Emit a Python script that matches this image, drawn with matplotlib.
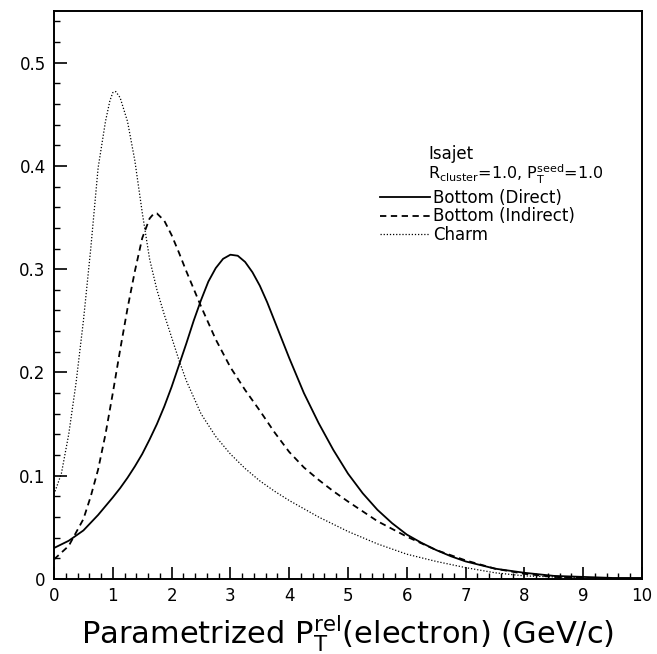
import matplotlib
matplotlib.use('Agg')
import matplotlib.pyplot as plt
from matplotlib.ticker import MultipleLocator, FixedLocator

# Bottom (Direct) - solid
x_direct = [0, 0.25, 0.5, 0.75, 1.0, 1.125, 1.25, 1.375, 1.5, 1.625, 1.75, 1.875, 2.0,
            2.125, 2.25, 2.375, 2.5, 2.625, 2.75, 2.875, 3.0, 3.125, 3.25, 3.375, 3.5,
            3.625, 3.75, 3.875, 4.0, 4.25, 4.5, 4.75, 5.0, 5.25, 5.5, 5.75, 6.0, 6.25,
            6.5, 6.75, 7.0, 7.5, 8.0, 8.5, 9.0, 9.5, 10.0]
y_direct = [0.030, 0.037, 0.047, 0.062, 0.079, 0.088, 0.098, 0.109, 0.121, 0.135, 0.150,
            0.167, 0.186, 0.207, 0.228, 0.250, 0.270, 0.288, 0.301, 0.310, 0.314, 0.313,
            0.307, 0.297, 0.284, 0.268, 0.250, 0.232, 0.214, 0.180, 0.151, 0.125, 0.102,
            0.083, 0.067, 0.054, 0.043, 0.035, 0.028, 0.022, 0.017, 0.010, 0.006, 0.003,
            0.002, 0.001, 0.001]

# Bottom (Indirect) - dashed
x_indirect = [0, 0.25, 0.5, 0.625, 0.75, 0.875, 1.0, 1.125, 1.25, 1.375, 1.5, 1.625, 1.7,
              1.75, 1.875, 2.0, 2.125, 2.25, 2.5, 2.75, 3.0, 3.25, 3.5, 3.75, 4.0, 4.25,
              4.5, 4.75, 5.0, 5.5, 6.0, 6.5, 7.0, 7.5, 8.0, 8.5, 9.0]
y_indirect = [0.019, 0.032, 0.058, 0.080, 0.106, 0.140, 0.180, 0.222, 0.262, 0.298, 0.330,
              0.349, 0.354, 0.354, 0.347, 0.333, 0.316, 0.298, 0.264, 0.232, 0.205, 0.183,
              0.163, 0.142, 0.123, 0.108, 0.096, 0.085, 0.075, 0.056, 0.041, 0.028, 0.018,
              0.010, 0.005, 0.002, 0.001]

# Charm - dotted
x_charm = [0, 0.125, 0.25, 0.375, 0.5, 0.625, 0.75, 0.875, 0.95, 1.0, 1.05, 1.125, 1.25,
           1.375, 1.5, 1.625, 1.75, 1.875, 2.0, 2.125, 2.25, 2.5, 2.75, 3.0, 3.25, 3.5,
           3.75, 4.0, 4.5, 5.0, 5.5, 6.0, 6.5, 7.0, 7.5, 8.0, 8.5, 9.0]
y_charm = [0.082, 0.102, 0.140, 0.190, 0.250, 0.320, 0.398, 0.443, 0.463, 0.471, 0.472,
           0.466, 0.443, 0.405, 0.355, 0.310, 0.280, 0.256, 0.234, 0.212, 0.192, 0.160,
           0.138, 0.121, 0.107, 0.095, 0.085, 0.076, 0.060, 0.046, 0.034, 0.024, 0.017,
           0.011, 0.006, 0.003, 0.002, 0.001]

labels = ['Bottom (Direct)', 'Bottom (Indirect)', 'Charm']
y_ticks = [0, 0.1, 0.2, 0.3, 0.4, 0.5]
y_ticklabels = ['0', '0.1', '0.2', '0.3', '0.4', '0.5']

fig = plt.figure(figsize=(6.57, 6.54), dpi=100)
ax = fig.add_axes([0.0822, 0.1147, 0.8950, 0.8685])

ax.plot(x_direct, y_direct, color='k', lw=1.3, linestyle='-', label=labels[0])
ax.plot(x_indirect, y_indirect, color='k', lw=1.3, linestyle=(0, (3.5, 2.5)), label=labels[1])
ax.plot(x_charm, y_charm, color='k', lw=0.9, linestyle=(0, (1, 1.5)), label=labels[2])

ax.set_xlim(0, 10)
ax.set_ylim(0, 0.55)
ax.xaxis.set_major_locator(MultipleLocator(1))
ax.xaxis.set_minor_locator(MultipleLocator(0.2))
ax.yaxis.set_major_locator(FixedLocator(y_ticks))
ax.set_yticklabels(y_ticklabels)
ax.yaxis.set_minor_locator(MultipleLocator(0.02))
ax.tick_params(which='major', direction='in', length=9, width=1.2, labelsize=12, pad=6)
ax.tick_params(which='minor', direction='in', length=4.5, width=1.0)
ax.tick_params(top=False, right=False, which='both')
for s in ax.spines.values():
    s.set_linewidth(1.4)

ax.set_xlabel(r'Parametrized P$_\mathregular{T}^\mathregular{rel}$(electron) (GeV/c)',
              fontsize=22, labelpad=6)

ax.text(6.36, 0.412, 'Isajet', fontsize=12, va='center')
ax.text(6.36, 0.392, r'R$_\mathregular{cluster}$=1.0, P$_\mathregular{T}^\mathregular{seed}$=1.0',
        fontsize=11.5, va='center')
ax.legend(loc='upper left', bbox_to_anchor=(0.54, 0.702), frameon=False, fontsize=12,
          handlelength=3.0, handletextpad=0.2, labelspacing=0.05, borderpad=0)

fig.savefig('out.png', dpi=100)
